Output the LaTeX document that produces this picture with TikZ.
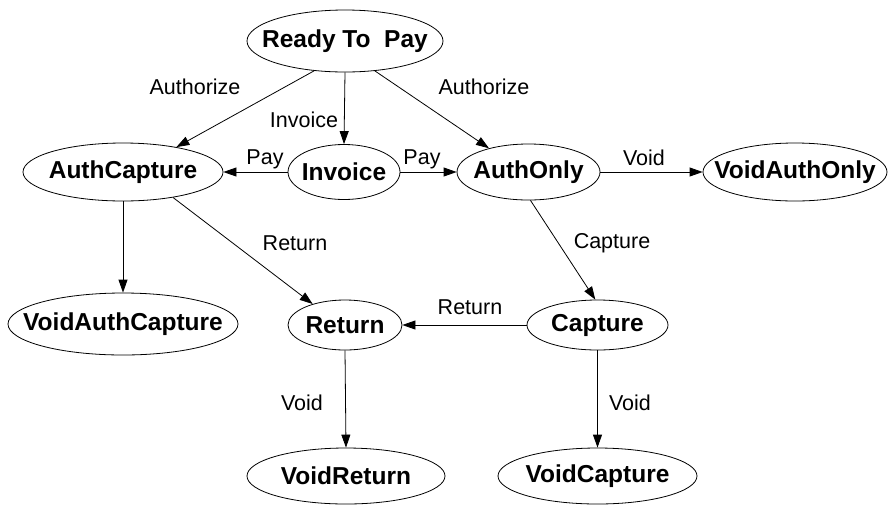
\documentclass[tikz,border=0pt]{standalone}
\usepackage{fontspec}
\setmainfont{Liberation Sans}
\usetikzlibrary{arrows.meta,shapes.geometric}
\newcommand{\zt}[1]{\makebox[0pt]{#1}}
\begin{document}
\begin{tikzpicture}[x=1pt,y=-1pt,
  st/.style={ellipse,draw,line width=0.8pt,inner sep=0pt,font=\fontsize{24.5}{28}\selectfont\bfseries},
  edge/.style={draw,line width=0.8pt,-{Triangle[length=13pt,width=9pt]}},
  lab/.style={inner sep=0pt,font=\fontsize{21.5}{25}\selectfont}]
\useasboundingbox (0,0) rectangle (888,504);
\node[st,minimum width=196pt,minimum height=62pt] (rtp) at (345,41) {\zt{Ready To~~Pay}};
\node[st,minimum width=200pt,minimum height=58pt] (ac) at (123,172) {\zt{AuthCapture}};
\node[st,minimum width=112pt,minimum height=55pt] (inv) at (344,172) {\zt{Invoice}};
\node[st,minimum width=143pt,minimum height=56pt] (ao) at (528.5,172) {\zt{AuthOnly}};
\node[st,minimum width=184pt,minimum height=58pt] (vao) at (795,172) {\zt{VoidAuthOnly}};
\node[st,minimum width=230pt,minimum height=62pt] (vac) at (123,324) {\zt{VoidAuthCapture}};
\node[st,minimum width=114pt,minimum height=50pt] (ret) at (345,325) {\zt{Return}};
\node[st,minimum width=141pt,minimum height=50pt] (cap) at (597.5,325) {\zt{Capture}};
\node[st,minimum width=198pt,minimum height=56pt] (vr) at (346,476) {\zt{VoidReturn}};
\node[st,minimum width=199pt,minimum height=56pt] (vc) at (597.5,476) {\zt{VoidCapture}};

\path[edge] (rtp.224) -- (ac.25);
\path[edge] (rtp.south) -- (inv.north);
\path[edge] (rtp.315) -- (ao.149);
\path[edge] (inv.west) -- (ac.east);
\path[edge] (inv.east) -- (ao.west);
\path[edge] (ao.east) -- (vao.west);
\path[edge] (ac.south) -- (vac.north);
\path[edge] (ac.333) -- (ret.147);
\path[edge] (ao.274) -- (cap.95);
\path[edge] (cap.west) -- (ret.east);
\path[edge] (ret.south) -- (vr.north);
\path[edge] (cap.south) -- (vc.north);

\node[lab] (l1) at (195,87) {Authorize};
\node[lab] (l2) at (484,87) {Authorize};
\node[lab] (l3) at (304,120) {Invoice};
\node[lab] (l4) at (265,159) {Pay};
\node[lab] (l5) at (422,159) {Pay};
\node[lab] (l6) at (644,158) {Void};
\node[lab] (l7) at (295,243) {Return};
\node[lab] (l8) at (612,243) {Capture};
\node[lab] (l9) at (470,307) {Return};
\node[lab] (l10) at (302,403) {Void};
\node[lab] (l11) at (630,403) {Void};
\end{tikzpicture}
\end{document}
